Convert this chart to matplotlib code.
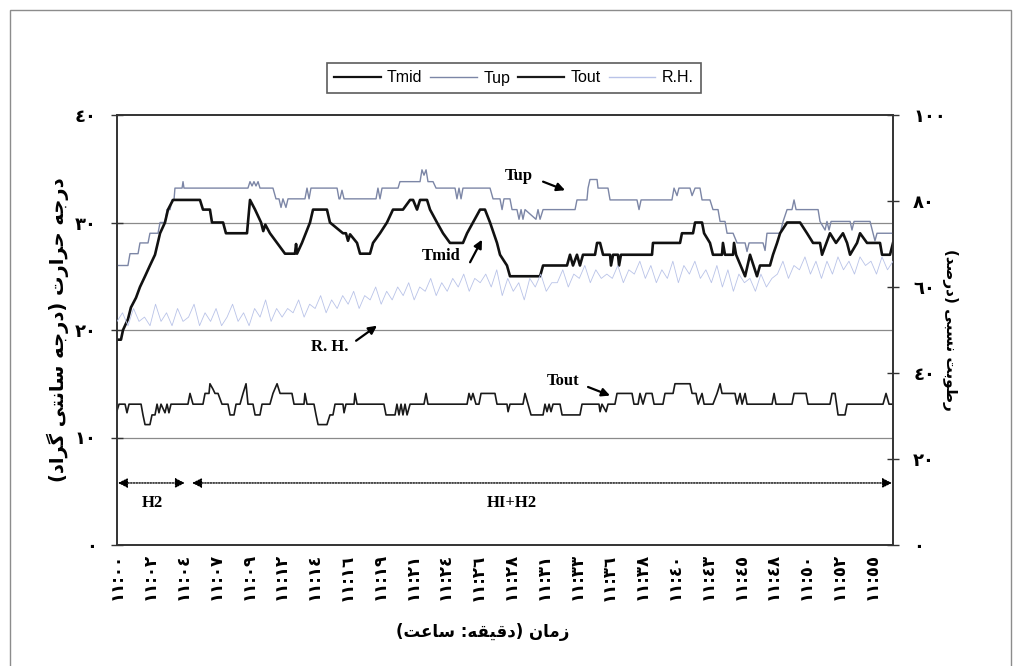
import numpy as np
import matplotlib
matplotlib.use("Agg")
import matplotlib.pyplot as plt
from matplotlib.patches import Rectangle

# ---------------- data (time in minutes after 11:00) ----------------
tmid_t = [0, 0.29, 0.44, 0.80, 1.02, 1.39, 1.68, 2.05, 2.41, 2.78, 3.15, 3.51, 3.73, 4.10, 6.07, 6.29,
          6.80, 6.95, 7.76, 7.97, 9.51, 9.73, 10.10, 10.54, 10.70, 10.85, 11.19, 11.71, 12.29, 13.02,
          13.10, 13.17, 13.53, 14.12, 14.34, 15.36, 15.58, 16.53, 16.75, 16.90, 17.05, 17.56, 17.78,
          18.51, 18.73, 19.24, 19.75, 20.19, 20.92, 21.44, 21.66, 21.95, 22.17, 22.68, 22.90, 23.41,
          23.85, 24.36, 25.31, 25.61, 26.04, 26.56, 26.92, 27.29, 27.80, 28.02, 28.53, 28.75, 30.95,
          31.17, 32.92, 33.14, 33.36, 33.65, 33.87, 34.09, 34.97, 35.12, 35.34, 35.56, 36.07, 36.14,
          36.29, 36.65, 36.73, 36.87, 39.14, 39.21, 41.19, 41.33, 42.14, 42.29, 42.80, 42.95, 43.38,
          43.60, 44.26, 44.33, 44.48, 45.07, 45.14, 45.29, 45.95, 46.31, 46.82, 47.04, 47.77, 47.99,
          48.29, 48.51, 49.02, 49.97, 50.48, 50.92, 51.43, 51.58, 52.16, 52.60, 53.11, 53.41, 53.63,
          54.14, 54.36, 54.87, 55.82, 55.97, 56.55, 56.77]
tmid_v = [19.1, 19.1, 20.0, 21.0, 22.1, 23.0, 24.0, 25.0, 26.0, 27.0, 29.0, 30.0, 31.2, 32.1, 32.1, 31.2,
          31.2, 30.0, 30.0, 29.0, 29.0, 32.1, 31.2, 30.0, 29.2, 29.8, 29.0, 28.1, 27.1, 27.1,
          28.0, 27.1, 28.1, 30.0, 31.2, 31.2, 30.0, 29.0, 29.0, 28.3, 28.9, 28.1, 27.1,
          27.1, 28.1, 29.0, 30.0, 31.2, 31.2, 32.1, 32.1, 31.2, 32.1, 32.1, 31.2, 30.0,
          29.0, 28.1, 28.1, 29.0, 30.0, 31.2, 31.2, 30.0, 28.1, 27.0, 26.0, 25.0, 25.0,
          26.0, 26.0, 27.0, 26.0, 27.0, 26.0, 27.0, 27.0, 28.1, 28.1, 27.0, 27.0, 26.0,
          27.0, 27.0, 26.0, 27.0, 27.0, 28.1, 28.1, 29.0, 29.0, 30.0, 30.0, 29.0, 28.1,
          27.0, 27.0, 28.1, 27.0, 27.0, 28.1, 27.0, 25.0, 27.0, 25.0, 26.0, 26.0, 27.0,
          28.1, 29.0, 30.0, 30.0, 29.0, 28.1, 28.1, 27.0, 29.0, 28.1, 29.0, 28.1, 27.0,
          28.1, 29.0, 28.1, 28.1, 27.0, 27.0, 28.1]

tup_t = [0, 0.80, 0.95, 1.54, 1.68, 2.27, 2.41, 3.00, 3.15, 3.51, 3.66, 3.88, 4.02, 4.17, 4.24, 4.76,
         4.83, 4.90, 9.58, 9.73, 9.88, 10.02, 10.17, 10.32, 10.46, 11.41, 11.63, 11.85, 12.00, 12.14,
         12.36, 12.51, 13.75, 13.90, 14.05, 14.19, 16.10, 16.24, 16.31, 16.46, 16.61, 18.95, 19.09,
         19.24, 19.39, 20.56, 20.70, 22.17, 22.31, 22.46, 22.61, 22.75, 23.12, 23.34, 24.73, 24.87,
         25.02, 25.17, 25.31, 27.29, 27.51, 28.02, 28.17, 28.31, 28.75, 28.90, 29.26, 29.41, 29.56,
         29.70, 29.85, 30.65, 30.80, 30.95, 31.17, 33.51, 33.65, 34.38, 34.46, 34.60, 35.12, 35.19,
         35.92, 36.07, 38.04, 38.19, 38.34, 40.60, 40.75, 40.97, 41.11, 41.92, 42.07, 42.29, 42.65,
         42.80, 43.38, 43.60, 43.97, 44.12, 44.48, 44.63, 45.07, 45.36, 45.95, 46.09, 46.24, 47.26,
         47.41, 47.55, 48.51, 48.73, 49.02, 49.38, 49.53, 49.68, 51.29, 51.43, 51.80, 51.94, 52.09,
         52.24, 53.63, 53.77, 53.92, 55.09, 55.31, 55.45, 55.60, 56.77]
tup_v = [26.0, 26.0, 27.1, 27.1, 28.1, 28.1, 29.0, 29.0, 30.0, 30.0, 31.2, 31.2, 32.1, 32.1, 33.2, 33.2,
         33.8, 33.2, 33.2, 33.8, 33.4, 33.8, 33.4, 33.8, 33.2, 33.2, 32.2, 32.2, 31.4, 32.2,
         31.4, 32.2, 32.2, 33.2, 32.2, 33.2, 33.2, 32.2, 32.2, 33.0, 32.2, 32.2, 33.2,
         32.2, 33.2, 33.2, 33.8, 33.8, 34.9, 34.4, 34.9, 33.8, 33.8, 33.2, 33.2, 32.2,
         33.2, 32.2, 33.2, 33.2, 32.2, 32.2, 31.2, 32.2, 32.2, 31.2, 31.2, 30.3, 31.2,
         30.3, 31.2, 30.3, 31.2, 30.3, 31.2, 31.2, 32.1, 32.1, 33.2, 34.0, 34.0, 33.2,
         33.2, 32.1, 32.1, 31.2, 32.1, 32.1, 33.2, 32.5, 33.2, 33.2, 32.5, 33.2, 33.2,
         32.1, 32.1, 31.2, 31.2, 30.1, 30.1, 29.0, 29.0, 28.1, 28.1, 27.3, 28.1, 28.1,
         27.4, 29.0, 29.0, 30.1, 31.2, 31.2, 32.1, 31.2, 31.2, 30.1, 29.3, 30.1, 29.3,
         30.1, 30.1, 29.3, 30.1, 30.1, 29.0, 28.3, 29.0, 29.0]

tout_t = [0, 0.15, 0.59, 0.73, 0.88, 1.76, 1.90, 2.05, 2.41, 2.56, 2.78, 2.93, 3.07, 3.22, 3.51, 3.66,
          3.80, 3.95, 5.19, 5.34, 5.56, 6.29, 6.44, 6.73, 6.80, 7.02, 7.17, 7.39, 7.68, 8.12, 8.27,
          8.56, 8.71, 9.00, 9.22, 9.44, 9.58, 9.95, 10.10, 10.46, 10.61, 11.19, 11.41, 11.71, 11.93,
          12.80, 12.95, 13.68, 13.75, 13.90, 14.41, 14.56, 14.71, 15.36, 15.58, 15.80, 15.95, 16.53,
          16.61, 16.75, 17.34, 17.41, 17.56, 19.53, 19.68, 20.34, 20.48, 20.63, 20.78, 20.92, 21.07,
          21.22, 21.44, 22.46, 22.61, 22.75, 25.61, 25.75, 25.90, 26.04, 26.26, 26.48, 26.63, 27.65,
          27.80, 28.53, 28.61, 28.75, 29.70, 29.85, 30.07, 30.29, 31.17, 31.31, 31.46, 31.61, 31.75,
          31.90, 32.41, 32.56, 33.87, 34.02, 35.26, 35.34, 35.48, 35.78, 35.92, 36.43, 36.58, 37.68,
          37.82, 38.12, 38.26, 38.48, 38.70, 39.14, 39.29, 39.94, 40.09, 40.68, 40.82, 41.92, 42.07,
          42.36, 42.51, 42.80, 42.95, 43.60, 43.90, 44.12, 44.26, 45.21, 45.36, 45.58, 45.73, 45.95,
          46.09, 47.92, 48.07, 48.21, 49.38, 49.53, 50.41, 50.55, 52.16, 52.31, 52.53, 52.75, 53.26,
          53.41, 56.04, 56.26, 56.48, 56.77]
tout_v = [12.5, 13.1, 13.1, 12.3, 13.1, 13.1, 12.1, 11.2, 11.2, 12.1, 12.1, 13.1, 12.3, 13.1, 12.3, 13.1,
          12.3, 13.1, 13.1, 14.1, 13.1, 13.1, 14.1, 14.1, 15.0, 14.5, 14.1, 14.1, 13.1, 13.1, 12.1,
          12.1, 13.1, 13.1, 14.1, 15.0, 13.1, 13.1, 12.1, 12.1, 13.1, 13.1, 14.1, 15.0, 14.1,
          14.1, 13.1, 13.1, 14.1, 13.1, 13.1, 12.1, 11.2, 11.2, 12.1, 12.1, 13.1, 13.1,
          12.3, 13.1, 13.1, 14.1, 13.1, 13.1, 12.1, 12.1, 13.1, 12.1, 13.1, 12.1, 13.1,
          12.1, 13.1, 13.1, 14.1, 13.1, 13.1, 14.1, 13.5, 14.1, 13.1, 13.1, 14.1, 14.1,
          13.1, 13.1, 12.4, 13.1, 13.1, 14.1, 13.1, 12.1, 12.1, 13.1, 12.4, 13.1, 12.4,
          13.1, 13.1, 12.1, 12.1, 13.1, 13.1, 12.4, 13.1, 12.4, 13.1, 13.1, 14.1, 14.1,
          13.1, 13.1, 14.1, 13.1, 14.1, 14.1, 13.1, 13.1, 14.1, 14.1, 15.0, 15.0, 14.1,
          14.1, 13.1, 14.1, 13.1, 13.1, 14.1, 15.0, 14.1, 14.1, 13.1, 14.1, 13.1, 14.1,
          13.1, 13.1, 14.1, 13.1, 13.1, 14.1, 14.1, 13.1, 13.1, 14.1, 14.1, 12.1, 12.1,
          13.1, 13.1, 14.1, 13.1, 13.1]

rh_v = [52, 54, 51, 55, 52, 53, 51, 56, 52, 54,
        51, 55, 52, 53, 56, 51, 54, 52, 55, 51,
        53, 56, 52, 54, 51, 55, 53, 57, 52, 55,
        53, 55, 54, 57, 53, 56, 55, 58, 54, 57,
        55, 58, 56, 59, 55, 58, 57, 60, 56, 59,
        57, 60, 58, 61, 57, 60, 59, 62, 58, 61,
        59, 62, 60, 63, 59, 62, 61, 63, 60, 64,
        58, 62, 59, 61, 57, 62, 60, 63, 59, 61,
        61, 64, 60, 63, 62, 65, 61, 64, 62, 63,
        62, 65, 61, 64, 63, 66, 62, 65, 61, 64,
        62, 66, 61, 65, 63, 66, 62, 64, 61, 65,
        60, 64, 59, 63, 61, 62, 59, 63, 60, 62,
        63, 66, 62, 65, 64, 67, 63, 66, 62, 66,
        63, 67, 64, 66, 63, 67, 65, 66, 63, 67, 64, 66]
rh_t = np.linspace(0, 56.77, len(rh_v))

time_labels = ["00", "02", "04", "07", "09", "12", "14", "16", "19", "21", "24", "26",
               "28", "31", "33", "36", "38", "40", "43", "45", "48", "50", "52", "55"]
left_ticks = [0, 10, 20, 30, 40]
right_ticks = [0, 20, 40, 60, 80, 100]

# ---------------- Arabic helpers ----------------
AR_DIGITS = str.maketrans("0123456789", "٠١٢٣٤٥٦٧٨٩")

FORMS = {
    "ا": ("\uFE8D", "\uFE8E", None, None),
    "ب": ("\uFE8F", "\uFE90", "\uFE91", "\uFE92"),
    "ت": ("\uFE95", "\uFE96", "\uFE97", "\uFE98"),
    "ج": ("\uFE9D", "\uFE9E", "\uFE9F", "\uFEA0"),
    "ح": ("\uFEA1", "\uFEA2", "\uFEA3", "\uFEA4"),
    "د": ("\uFEA9", "\uFEAA", None, None),
    "ر": ("\uFEAD", "\uFEAE", None, None),
    "ز": ("\uFEAF", "\uFEB0", None, None),
    "س": ("\uFEB1", "\uFEB2", "\uFEB3", "\uFEB4"),
    "ص": ("\uFEB9", "\uFEBA", "\uFEBB", "\uFEBC"),
    "ط": ("\uFEC1", "\uFEC2", "\uFEC3", "\uFEC4"),
    "ع": ("\uFEC9", "\uFECA", "\uFECB", "\uFECC"),
    "ق": ("\uFED5", "\uFED6", "\uFED7", "\uFED8"),
    "م": ("\uFEE1", "\uFEE2", "\uFEE3", "\uFEE4"),
    "ن": ("\uFEE5", "\uFEE6", "\uFEE7", "\uFEE8"),
    "ه": ("\uFEE9", "\uFEEA", "\uFEEB", "\uFEEC"),
    "و": ("\uFEED", "\uFEEE", None, None),
    "ی": ("\uFBFC", "\uFBFD", "\uFBFE", "\uFBFF"),
    "گ": ("\uFB92", "\uFB93", "\uFB94", "\uFB95"),
}


def shape_rtl(s):
    out = []
    n = len(s)
    for i, c in enumerate(s):
        if c not in FORMS:
            out.append(c)
            continue
        iso, fin, ini, med = FORMS[c]
        prev = s[i - 1] if i > 0 else ""
        nxt = s[i + 1] if i < n - 1 else ""
        join_prev = prev in FORMS and FORMS[prev][2] is not None
        join_next = nxt in FORMS and ini is not None
        if join_prev and join_next:
            out.append(med)
        elif join_prev:
            out.append(fin)
        elif join_next:
            out.append(ini)
        else:
            out.append(iso)
    vis = "".join(reversed(out))
    return vis.translate(str.maketrans("()", ")("))


ylabel_left = "درجه حرارت (درجه سانتی گراد)"
ylabel_right = "رطوبت نسبی (درصد)"
xlabel_text = "زمان (دقیقه: ساعت)"

AR_FONT = ["DejaVu Sans"]

# ---------------- figure ----------------
fig = plt.figure(figsize=(10.21, 6.66), dpi=100)
fig.patches.append(Rectangle((10 / 1021, -0.01), 1001 / 1021, 1 - 10 / 666 + 0.01,
                             transform=fig.transFigure, fill=False, edgecolor="#8c8c8c",
                             linewidth=1.0))

ax = fig.add_axes([117 / 1021, 121 / 666, 776 / 1021, 430 / 666])
ax2 = ax.twinx()

l1, = ax.plot(tmid_t, tmid_v, color="#111111", lw=1.9, zorder=5)
l2, = ax.plot(tup_t, tup_v, color="#7c86a6", lw=1.0, zorder=4)
l3, = ax.plot(tout_t, tout_v, color="#1a1a1a", lw=1.2, zorder=5)
l4, = ax2.plot(rh_t, rh_v, color="#b9c3e8", lw=0.6, zorder=3)

ax.set_xlim(0, 56.77)
ax.set_ylim(0, 40)
ax2.set_ylim(0, 100)

for g in (10, 20, 30):
    ax.axhline(g, color="#8a8a8a", lw=0.9, zorder=1)

ax.set_yticks(left_ticks)
ax.set_yticklabels([str(v).translate(AR_DIGITS) for v in left_ticks],
                   fontfamily=AR_FONT, fontweight="bold", fontsize=13)
ax2.set_yticks(right_ticks)
ax2.set_yticklabels([str(v).translate(AR_DIGITS) for v in right_ticks],
                    fontfamily=AR_FONT, fontweight="bold", fontsize=13)

xt = [2.4 * i for i in range(len(time_labels))]
ax.set_xticks(xt)
ax.set_xticklabels([("11:" + m).translate(AR_DIGITS) for m in time_labels],
                   rotation=90, fontfamily=AR_FONT, fontweight="bold", fontsize=12)
ax.tick_params(axis="x", length=0, pad=6)
ax.tick_params(axis="y", direction="inout", length=9, width=1, color="#333333", pad=10)
ax2.tick_params(axis="y", direction="inout", length=9, width=1, color="#333333", pad=10)

for a in (ax, ax2):
    for sp in a.spines.values():
        sp.set_color("#333333")
        sp.set_linewidth(1.2)

fig.text(58 / 1021, 1 - 330 / 666, shape_rtl(ylabel_left), rotation=90, ha="center", va="center",
         fontfamily=AR_FONT, fontweight="bold", fontsize=14)
fig.text(950 / 1021, 1 - 330 / 666, shape_rtl(ylabel_right), rotation=-90, ha="center", va="center",
         fontfamily=AR_FONT, fontweight="bold", fontsize=11)
fig.text(483 / 1021, 1 - 632 / 666, shape_rtl(xlabel_text), ha="center", va="center",
         fontfamily=AR_FONT, fontweight="bold", fontsize=12)

# annotations
serif = dict(fontfamily=["Liberation Serif", "DejaVu Serif"], fontweight="bold", fontsize=12)
arw = dict(arrowstyle="-|>", color="black", lw=1.6, mutation_scale=12, shrinkA=0, shrinkB=0)
ax.text(29.4, 34.3, "Tup", ha="center", va="center", **serif)
ax.annotate("", xy=(32.78, 33.0), xytext=(31.17, 33.8), arrowprops=arw)
ax.text(23.7, 26.9, "Tmid", ha="center", va="center", **serif)
ax.annotate("", xy=(26.70, 28.4), xytext=(25.83, 26.3), arrowprops=arw)
ax.text(15.6, 18.4, "R. H.", ha="center", va="center", **serif)
ax.annotate("", xy=(19.02, 20.4), xytext=(17.49, 19.0), arrowprops=arw)
ax.text(32.63, 15.3, "Tout", ha="center", va="center", **serif)
ax.annotate("", xy=(36.07, 13.9), xytext=(34.46, 14.7), arrowprops=arw)

darw = dict(arrowstyle="<|-|>", color="black", lw=1.0, linestyle=(0, (1, 1)),
            mutation_scale=14, shrinkA=0, shrinkB=0)
ax.annotate("", xy=(4.97, 5.77), xytext=(0.07, 5.77), arrowprops=darw)
ax.annotate("", xy=(56.7, 5.77), xytext=(5.49, 5.77), arrowprops=darw)
ax.text(2.56, 3.9, "H2", ha="center", va="center", **serif)
ax.text(28.9, 3.9, "HI+H2", ha="center", va="center", **serif)

leg = fig.legend([l1, l2, l3, l4], ["Tmid", "Tup", "Tout", "R.H."], loc="center",
                 bbox_to_anchor=(514 / 1021, 1 - 78 / 666), ncol=4, frameon=True,
                 fancybox=False, edgecolor="#333333", handlelength=2.9, handletextpad=0.4,
                 columnspacing=0.5, borderpad=0.45, borderaxespad=0,
                 prop={"family": ["Liberation Sans"], "size": 11.5})
leg.get_frame().set_linewidth(1.2)
lw_leg = [1.6, 1.0, 1.6, 1.0]
for h, w in zip(leg.get_lines(), lw_leg):
    h.set_linewidth(w)

fig.savefig("out.png", dpi=100)
